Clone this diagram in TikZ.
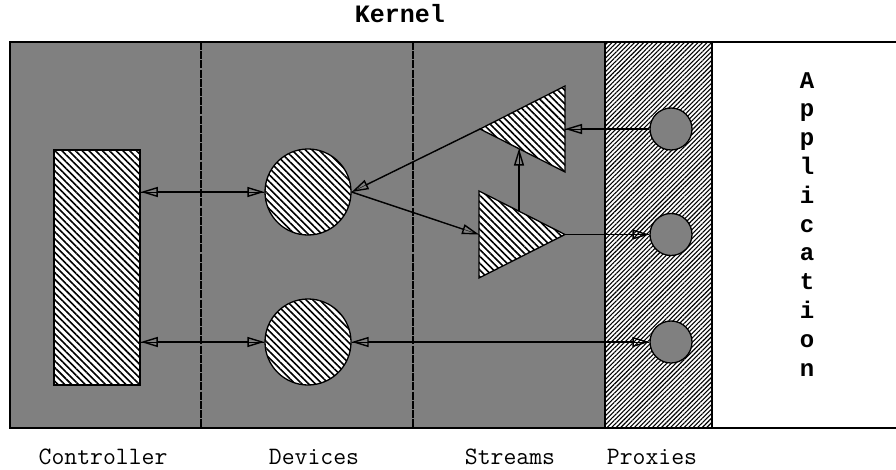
\documentclass[tikz,border=0pt]{standalone}
\usepackage{fontspec}
\newfontfamily\heavymono{Liberation Mono}
\usetikzlibrary{arrows.meta,patterns.meta}

\definecolor{kernelgray}{HTML}{808080}

\tikzset{
  frameline/.style={line width=1.3pt},
  layersep/.style={line width=1.3pt, dash pattern=on 8pt off 1.2pt},
  hatchnw/.style={preaction={fill=white},
    pattern={Lines[angle=-45,distance=4.8pt,line width=1.6pt]}, pattern color=black},
  hatchne/.style={preaction={fill=white},
    pattern={Lines[angle=45,distance=3.2pt,line width=1.1pt]}, pattern color=black},
  device/.style={circle, draw, frameline, hatchnw, minimum size=86pt, inner sep=0pt},
  proxy/.style={circle, draw, frameline, fill=kernelgray, minimum size=42pt, inner sep=0pt},
  streamtri/.style={draw, frameline, hatchnw, line join=miter},
  headtip/.tip={Triangle[open,length=17pt,width=10pt,line width=1.4pt]},
  flow/.style={line width=1.4pt, preaction={draw,-}, -headtip},
  biflow/.style={line width=1.4pt, preaction={draw,-}, headtip-headtip},
  layerlabel/.style={font=\ttfamily\fontsize{25}{30}\selectfont, anchor=base, inner sep=0pt},
  titlelabel/.style={font=\heavymono\bfseries\fontsize{25}{30}\selectfont, anchor=base, inner sep=0pt}
}

\begin{document}
\begin{tikzpicture}[x=1pt,y=-1pt]
  \useasboundingbox (0,0) rectangle (896,469);

  % kernel area, proxy strip and application area
  \fill[kernelgray] (10,42) rectangle (605,428);
  \path[hatchne] (605,42) rectangle (712,428);
  \draw[frameline] (896,42) -- (10,42) -- (10,428) -- (896,428);
  \draw[frameline] (605,42) -- (605,428);
  \draw[frameline] (712,42) -- (712,428);

  % layer separators
  \draw[layersep] (201,42) -- (201,428);
  \draw[layersep] (413,42) -- (413,428);

  % controller
  \node[draw, frameline, hatchnw, minimum width=86pt, minimum height=235pt, inner sep=0pt]
    (ctrl) at (97,267.5) {};

  % devices
  \node[device] (dev1) at (308,192) {};
  \node[device] (dev2) at (308,342) {};

  % streams
  \coordinate (mixTip) at (480,129);
  \coordinate (mixTR)  at (565,86);
  \coordinate (mixBR)  at (565,172);
  \coordinate (mixIn)  at (565,129);
  \coordinate (mixBot) at (519,148.5);
  \draw[streamtri] (mixTip) -- (mixTR) -- (mixBR) -- cycle;

  \coordinate (ampTL)  at (479,191);
  \coordinate (ampBL)  at (479,278);
  \coordinate (ampTip) at (565,234.5);
  \coordinate (ampIn)  at (479,234.5);
  \coordinate (ampTop) at (519,211);
  \draw[streamtri] (ampTL) -- (ampTip) -- (ampBL) -- cycle;

  % proxies
  \node[proxy] (px1) at (671,129) {};
  \node[proxy] (px2) at (671,234.5) {};
  \node[proxy] (px3) at (671,342) {};

  % connections
  \draw[biflow] (ctrl.east |- dev1.west) -- (dev1.west);
  \draw[biflow] (ctrl.east |- dev2.west) -- (dev2.west);
  \draw[biflow] (dev2.east) -- (px3.west);
  \draw[flow] (dev1.east) -- (ampIn);
  \draw[flow] (mixTip) -- (dev1.east);
  \draw[flow] (ampTop) -- (mixBot);
  \draw[flow] (px1.west) -- (mixIn);
  \draw[flow] (ampTip) -- (px2.west);

  % labels
  \node[titlelabel] (kernel) at (400,22) {Kernel};
  \node[layerlabel] (lctrl) at (103,464) {Controller};
  \node[layerlabel] (ldev)  at (314,464) {Devices};
  \node[layerlabel] (lstr)  at (510,464) {Streams};
  \node[layerlabel] (lprx)  at (652,464) {Proxies};
  \node[anchor=north, align=center, inner sep=0pt,
        font=\heavymono\bfseries\fontsize{24}{28.8}\selectfont]
    (app) at (807,72) {A\\p\\p\\l\\i\\c\\a\\t\\i\\o\\n};
\end{tikzpicture}
\end{document}
